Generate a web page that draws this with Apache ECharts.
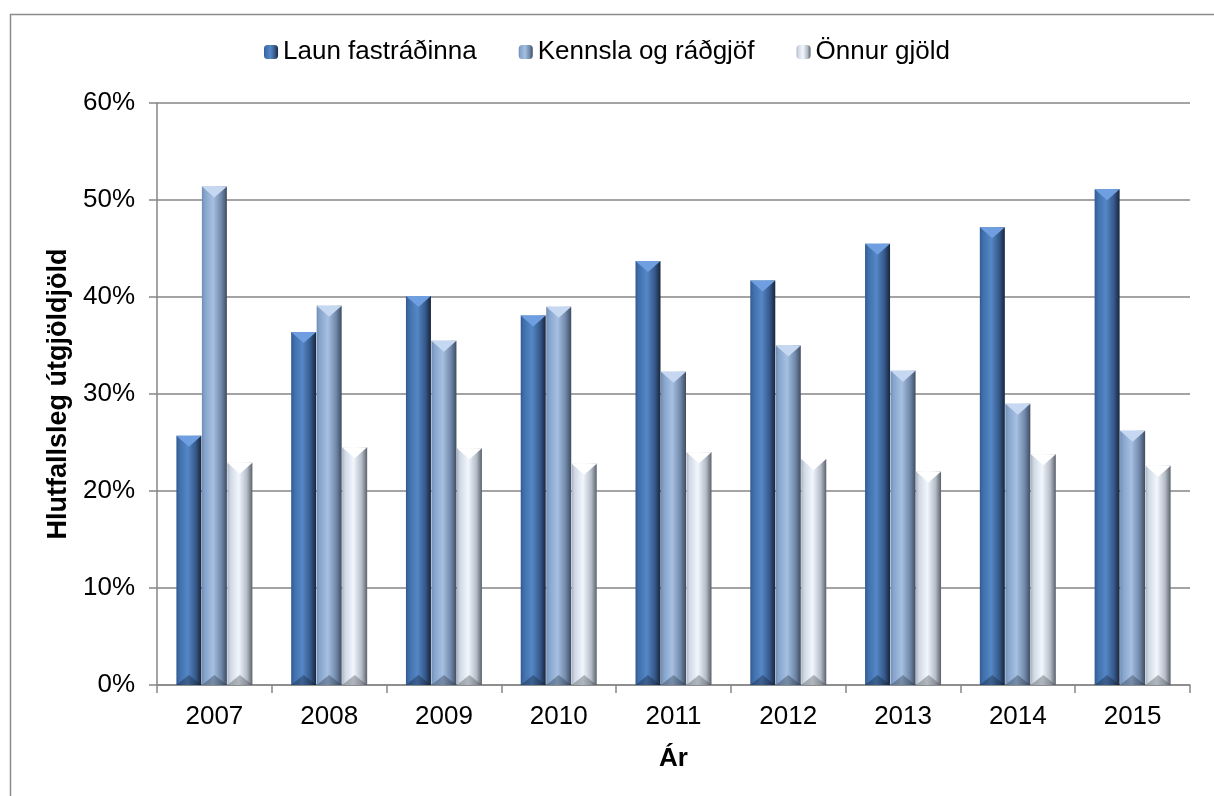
<!DOCTYPE html>
<html>
<head>
<meta charset="utf-8">
<script src="https://cdn.jsdelivr.net/npm/echarts@6/dist/echarts.min.js"></script>
<style>
  html, body { margin: 0; padding: 0; background: #fff; }
  #chart { width: 1214px; height: 796px; }
</style>
</head>
<body>
<div id="chart"></div>
<script>
// gögn lesin af myndinni (% af útgjöldum)
var years = ["2007", "2008", "2009", "2010", "2011", "2012", "2013", "2014", "2015"];
var seriesNames = ["Laun fastráðinna", "Kennsla og ráðgjöf", "Önnur gjöld"];
var laun = [25.7, 36.4, 40.1, 38.1, 43.7, 41.7, 45.5, 47.2, 51.1];
var kennsla = [51.4, 39.1, 35.5, 39.0, 32.3, 35.0, 32.4, 29.0, 26.2];
var onnur = [22.9, 24.5, 24.4, 22.8, 24.0, 23.3, 22.0, 23.8, 22.6];
var yTicks = [0, 10, 20, 30, 40, 50, 60];

var fontName = "'Liberation Sans', Arial, sans-serif";
var BAR_W = 25;

function cyl(c) {
      // lárétt litabreyting sem líkir eftir skáskornum súlum
      return new echarts.graphic.LinearGradient(0, 0, 1, 0, [
            { offset: 0, color: c[0] },
            { offset: 0.12, color: c[1] },
            { offset: 0.45, color: c[2] },
            { offset: 0.78, color: c[3] },
            { offset: 1, color: c[4] },
      ]);
}

var colorsLaun = ["#325a8f", "#3f6eab", "#5587c6", "#35588a", "#17253a"];
var colorsKennsla = ["#6f8cb5", "#86a4cc", "#a6c0e2", "#7088aa", "#3f4c60"];
var colorsOnnur = ["#a9b2be", "#cfd8e4", "#f2f7fe", "#b4bcc7", "#5c626b"];

// skáflötur efst og neðst á hverri súlu
function capSeries(name, values, offset, light, dark) {
      return {
            name: name,
            type: "custom",
            silent: true,
            z: 3,
            data: values.map(function (v, i) {
                  return [i, v];
            }),
            renderItem: function (params, api) {
                  var top = api.coord([api.value(0), api.value(1)]);
                  var base = api.coord([api.value(0), 0]);
                  var x0 = top[0] + offset - BAR_W / 2;
                  var x1 = x0 + BAR_W;
                  var xm = x0 + BAR_W / 2;
                  return {
                        type: "group",
                        children: [
                              {
                                    type: "polygon",
                                    shape: { points: [[x0, top[1]], [x1, top[1]], [xm, top[1] + 11]] },
                                    style: { fill: light },
                              },
                              {
                                    type: "polygon",
                                    shape: { points: [[x0, base[1]], [x1, base[1]], [xm, base[1] - 10]] },
                                    style: { fill: dark, opacity: 0.35 },
                              },
                        ],
                  };
            },
      };
}

var chart = echarts.init(document.getElementById("chart"));

var option = {
      animation: false,
      backgroundColor: "#ffffff",
      textStyle: { fontFamily: fontName },
      graphic: [
            {
                  type: "rect",
                  left: 8,
                  top: 12,
                  shape: { width: 1230, height: 800 },
                  style: { fill: "none", stroke: "#8c8c8c", lineWidth: 1.5 },
                  silent: true,
            },
      ],
      legend: {
            top: 34,
            left: "center",
            itemWidth: 14,
            itemHeight: 14,
            itemGap: 42,
            textStyle: { fontSize: 26, color: "#000", fontFamily: fontName },
            data: seriesNames,
      },
      grid: {
            left: 157,
            right: 24,
            top: 103,
            bottom: 111,
            containLabel: false,
      },
      xAxis: {
            type: "category",
            data: years,
            name: "Ár",
            nameLocation: "middle",
            nameGap: 61,
            nameTextStyle: { fontSize: 26, fontWeight: "bold", color: "#000" },
            axisLine: { lineStyle: { color: "#868686", width: 1.5 } },
            axisTick: { show: true, length: 8, lineStyle: { color: "#868686", width: 1.5 } },
            axisLabel: { fontSize: 26, color: "#000", margin: 19 },
      },
      yAxis: {
            type: "value",
            min: yTicks[0],
            max: yTicks[yTicks.length - 1],
            interval: 10,
            name: "Hlutfallsleg útgjöldjöld",
            nameLocation: "middle",
            nameGap: 84,
            nameRotate: 90,
            nameTextStyle: { fontSize: 27, fontWeight: "bold", color: "#000" },
            axisLine: { show: true, lineStyle: { color: "#868686", width: 1.5 } },
            axisTick: { show: true, length: 8, lineStyle: { color: "#868686", width: 1.5 } },
            axisLabel: { fontSize: 26, color: "#000", margin: 22, formatter: "{value}%" },
            splitLine: { lineStyle: { color: "#868686", width: 1.5 } },
      },
      series: [
            {
                  name: seriesNames[0],
                  type: "bar",
                  data: laun,
                  barWidth: BAR_W,
                  barGap: "2%",
                  itemStyle: { color: cyl(colorsLaun) },
            },
            {
                  name: seriesNames[1],
                  type: "bar",
                  data: kennsla,
                  barWidth: BAR_W,
                  barGap: "2%",
                  itemStyle: { color: cyl(colorsKennsla) },
            },
            {
                  name: seriesNames[2],
                  type: "bar",
                  data: onnur,
                  barWidth: BAR_W,
                  barGap: "2%",
                  itemStyle: { color: cyl(colorsOnnur) },
            },
            capSeries("cap0", laun, -BAR_W * 1.02, "#6f9fe0", "#0e1a2c"),
            capSeries("cap1", kennsla, 0, "#c6d8f1", "#1f2a3a"),
            capSeries("cap2", onnur, BAR_W * 1.02, "#ffffff", "#3a3f46"),
      ],
};

chart.setOption(option);
</script>
</body>
</html>
